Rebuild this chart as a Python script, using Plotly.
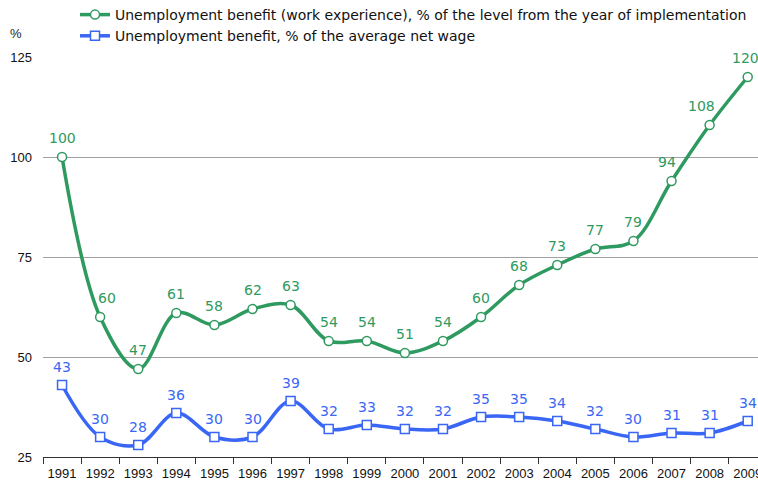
import plotly.graph_objects as go

years = [str(y) for y in range(1991, 2010)]
work_exp = [100, 60, 47, 61, 58, 62, 63, 54, 54, 51, 54, 60, 68, 73, 77, 79, 94, 108, 120]
net_wage = [43, 30, 28, 36, 30, 30, 39, 32, 33, 32, 32, 35, 35, 34, 32, 30, 31, 31, 34]

name_green = "Unemployment benefit (work experience), % of the level from the year of implementation"
name_blue = "Unemployment benefit, % of the average net wage"
green = "#2f9a60"
blue = "#3a66f5"
label_font = "DejaVu Sans"

W, H = 758, 488
L, R, T, B = 43, 0, 57, 31
PW, PH = W - L - R, H - T - B

# small horizontal nudges of some value labels (pixels), as in the reference
green_xshift = {1: 7, 16: -5, 17: -8, 18: -2}

fig = go.Figure()
fig.add_trace(go.Scatter(
    x=years, y=work_exp, name=name_green, mode="lines+markers",
    line=dict(color=green, width=3.5, shape="spline", smoothing=1),
    marker=dict(symbol="circle", size=9, color="white", line=dict(color=green, width=1.5)),
    cliponaxis=False,
))
fig.add_trace(go.Scatter(
    x=years, y=net_wage, name=name_blue, mode="lines+markers",
    line=dict(color=blue, width=3.5, shape="spline", smoothing=1),
    marker=dict(symbol="square", size=9, color="white", line=dict(color=blue, width=1.5)),
    cliponaxis=False,
))

annotations = []
for i, v in enumerate(work_exp):
    annotations.append(dict(x=i, y=v, xref="x", yref="y", text=str(v), showarrow=False,
                            yanchor="middle", yshift=19, xshift=green_xshift.get(i, 0),
                            font=dict(family=label_font, size=14, color=green)))
for i, v in enumerate(net_wage):
    annotations.append(dict(x=i, y=v, xref="x", yref="y", text=str(v), showarrow=False,
                            yanchor="middle", yshift=18,
                            font=dict(family=label_font, size=14, color=blue)))
annotations.append(dict(x=(16 - L) / PW, y=(H - B - 34) / PH, xref="paper", yref="paper",
                        text="%", showarrow=False, xanchor="center", yanchor="middle",
                        font=dict(family="Liberation Sans", size=13, color="#222")))

fig.update_layout(
    width=W, height=H,
    margin=dict(l=L, r=R, t=T, b=B, autoexpand=False),
    paper_bgcolor="white", plot_bgcolor="white",
    showlegend=True,
    legend=dict(
        x=(75 - L) / PW, y=(H - B + 1) / PH, xref="paper", yref="paper",
        xanchor="left", yanchor="top",
        font=dict(family=label_font, size=14, color="#111"),
        itemwidth=30, tracegroupgap=0, bgcolor="rgba(0,0,0,0)",
    ),
    annotations=annotations,
    xaxis=dict(
        type="category", categoryorder="array", categoryarray=years,
        range=[-0.5, 18.27], tickson="boundaries", ticks="outside", ticklen=6,
        tickcolor="#333", showline=True, linecolor="#333", linewidth=1,
        showgrid=False, tickangle=0, ticklabelstandoff=4,
        tickfont=dict(family="Liberation Sans", size=13, color="#111"),
    ),
    yaxis=dict(
        range=[25, 125], tickvals=[25, 50, 75, 100, 125], showgrid=True,
        gridcolor="#a0a0a0", gridwidth=1, zeroline=False, showline=False,
        ticks="", ticklabelstandoff=10,
        tickfont=dict(family="Liberation Sans", size=13, color="#111"),
    ),
)

fig.write_html("out.html")
